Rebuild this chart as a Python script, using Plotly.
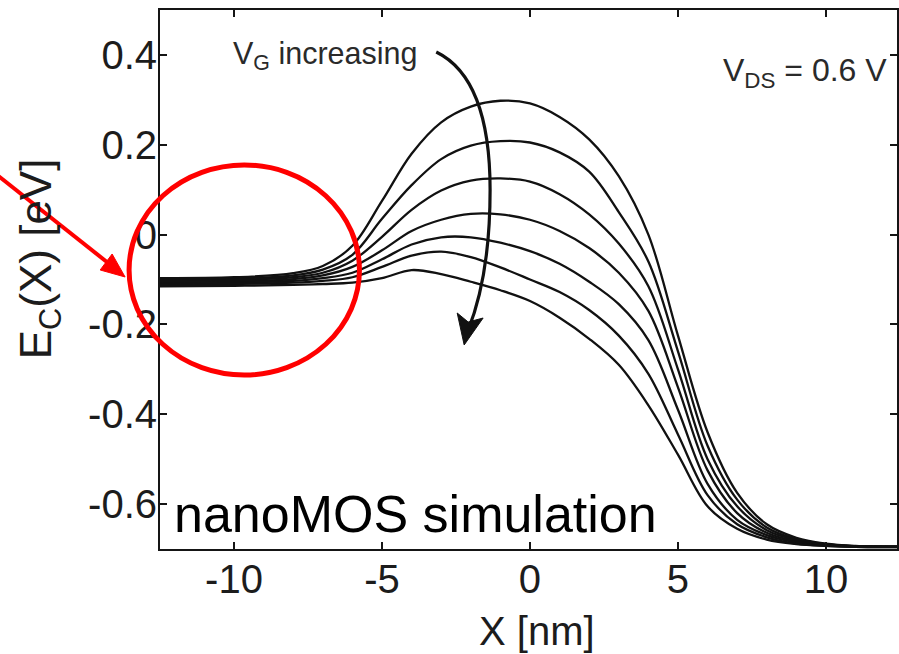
import plotly.graph_objects as go

# ---- data ----
x_nm = [-12.5, -10, -8, -7, -6, -5, -4, -3, -2, -1, 0, 1, 2, 3, 4, 5, 6, 7, 8, 9, 10, 11, 12.5]

ec_1 = [-0.097, -0.095, -0.086, -0.07, -0.025, 0.075, 0.18, 0.25, 0.285, 0.298, 0.292, 0.262, 0.212, 0.13, 0.0, -0.225, -0.44, -0.575, -0.645, -0.675, -0.688, -0.693, -0.695]
ec_2 = [-0.1, -0.098, -0.091, -0.078, -0.045, 0.035, 0.11, 0.168, 0.198, 0.208, 0.205, 0.183, 0.14, 0.05, -0.06, -0.26, -0.47, -0.59, -0.652, -0.678, -0.689, -0.694, -0.695]
ec_3 = [-0.103, -0.101, -0.095, -0.085, -0.058, -0.005, 0.055, 0.098, 0.12, 0.125, 0.118, 0.09, 0.045, -0.02, -0.115, -0.3, -0.5, -0.605, -0.658, -0.68, -0.69, -0.694, -0.695]
ec_4 = [-0.106, -0.104, -0.099, -0.091, -0.072, -0.035, 0.008, 0.033, 0.046, 0.045, 0.033, 0.008, -0.03, -0.085, -0.17, -0.34, -0.525, -0.62, -0.664, -0.683, -0.691, -0.694, -0.695]
ec_5 = [-0.109, -0.107, -0.103, -0.097, -0.085, -0.055, -0.022, -0.006, -0.006, -0.018, -0.037, -0.065, -0.105, -0.155, -0.235, -0.39, -0.555, -0.635, -0.669, -0.685, -0.692, -0.694, -0.695]
ec_6 = [-0.112, -0.11, -0.107, -0.103, -0.095, -0.072, -0.047, -0.038, -0.05, -0.073, -0.1, -0.128, -0.168, -0.225, -0.31, -0.445, -0.58, -0.645, -0.674, -0.688, -0.693, -0.695, -0.696]
ec_7 = [-0.115, -0.114, -0.112, -0.11, -0.107, -0.097, -0.079, -0.088, -0.105, -0.124, -0.148, -0.185, -0.232, -0.29, -0.38, -0.49, -0.605, -0.655, -0.679, -0.689, -0.693, -0.695, -0.696]

curves = [ec_1, ec_2, ec_3, ec_4, ec_5, ec_6, ec_7]

x_tick_vals = [-10, -5, 0, 5, 10]
x_tick_text = ["-10", "-5", "0", "5", "10"]
y_tick_vals = [-0.6, -0.4, -0.2, 0, 0.2, 0.4]
y_tick_text = ["-0.6", "-0.4", "-0.2", "0", "0.2", "0.4"]

# ---- layout geometry (pixels) ----
WIDTH, HEIGHT = 899, 654
L, T, R, B = 160, 10, 0, 105
PW = WIDTH - L - R
PH = HEIGHT - T - B


def fx(p):
    return (p - L) / PW


def fy(p):
    return 1 - (p - T) / PH


FONT = "Liberation Sans, Arial, Helvetica, sans-serif"
INK = "#151515"

fig = go.Figure()
for ys in curves:
    fig.add_trace(go.Scatter(
        x=x_nm, y=ys, mode="lines",
        line=dict(color="#111111", width=2.3, shape="spline", smoothing=1.0),
        showlegend=False, hoverinfo="skip",
    ))

axis_common = dict(
    showline=True, linewidth=2, linecolor=INK, mirror="ticks",
    ticks="inside", ticklen=7, tickwidth=2, tickcolor=INK,
    showgrid=False, zeroline=False,
    tickfont=dict(family=FONT, size=40, color="#1c1c1c"),
)
fig.update_xaxes(range=[-12.5, 12.4], tickmode="array",
                 tickvals=x_tick_vals, ticktext=x_tick_text,
                 ticklabelstandoff=-6, **axis_common)
fig.update_yaxes(range=[-0.7, 0.5], tickmode="array",
                 tickvals=y_tick_vals, ticktext=y_tick_text,
                 ticklabelstandoff=-7, **axis_common)

shapes = []
# red ellipse
shapes.append(dict(type="circle", xref="paper", yref="paper",
                   x0=fx(129), x1=fx(360), y0=fy(375), y1=fy(165),
                   line=dict(color="#ff0000", width=5)))
# red arrow line + head
shapes.append(dict(type="line", xref="paper", yref="paper",
                   x0=fx(-2), y0=fy(176), x1=fx(108), y1=fy(263),
                   line=dict(color="#ff0000", width=4)))


def pth(pts, close=True):
    s = "M {:.5f},{:.5f}".format(fx(pts[0][0]), fy(pts[0][1]))
    for p in pts[1:]:
        s += " L {:.5f},{:.5f}".format(fx(p[0]), fy(p[1]))
    return s + (" Z" if close else "")


shapes.append(dict(type="path", xref="paper", yref="paper",
                   path=pth([(125, 277), (100, 270), (112, 254)]),
                   fillcolor="#ff0000", line=dict(color="#ff0000", width=1)))

# black curved arrow
cpts = [(437, 52), (478, 72), (491, 125), (491, 190), (491, 255), (481, 300), (469, 330)]
cp = "M {:.5f},{:.5f} C {:.5f},{:.5f} {:.5f},{:.5f} {:.5f},{:.5f} C {:.5f},{:.5f} {:.5f},{:.5f} {:.5f},{:.5f}".format(
    *[v for p in cpts for v in (fx(p[0]), fy(p[1]))])
shapes.append(dict(type="path", xref="paper", yref="paper", path=cp,
                   line=dict(color="#111111", width=3.2)))
shapes.append(dict(type="path", xref="paper", yref="paper",
                   path=pth([(465, 345), (458, 313), (469, 322), (484, 318)]),
                   fillcolor="#111111", line=dict(color="#111111", width=1)))

annotations = [
    dict(text="V<sub>G</sub> increasing", x=fx(231), y=fy(55), xanchor="left", yanchor="middle",
         font=dict(family=FONT, size=30.5, color="#2a2a2a")),
    dict(text="V<sub>DS</sub> = 0.6 V", x=fx(891), y=fy(72), xanchor="right", yanchor="middle",
         font=dict(family=FONT, size=32, color="#2a2a2a")),
    dict(text="nanoMOS simulation", x=fx(172), y=fy(514), xanchor="left", yanchor="middle",
         font=dict(family=FONT, size=52, color="#000000")),
    dict(text="X [nm]", x=fx(538), y=fy(631), xanchor="center", yanchor="middle",
         font=dict(family=FONT, size=40, color="#1c1c1c")),
    dict(text="E<sub>C</sub>(X) [eV]", x=fx(39), y=fy(259), xanchor="center", yanchor="middle",
         textangle=-90, font=dict(family=FONT, size=44, color="#1c1c1c")),
]
for a in annotations:
    a.update(xref="paper", yref="paper", showarrow=False)

fig.update_layout(
    width=WIDTH, height=HEIGHT,
    margin=dict(l=L, r=R, t=T, b=B, pad=0),
    paper_bgcolor="white", plot_bgcolor="white",
    shapes=shapes, annotations=annotations,
    showlegend=False,
)

fig.write_html("out.html",
               config={"displayModeBar": False},
               post_script="document.body.style.margin='0';document.body.style.overflow='hidden';")
